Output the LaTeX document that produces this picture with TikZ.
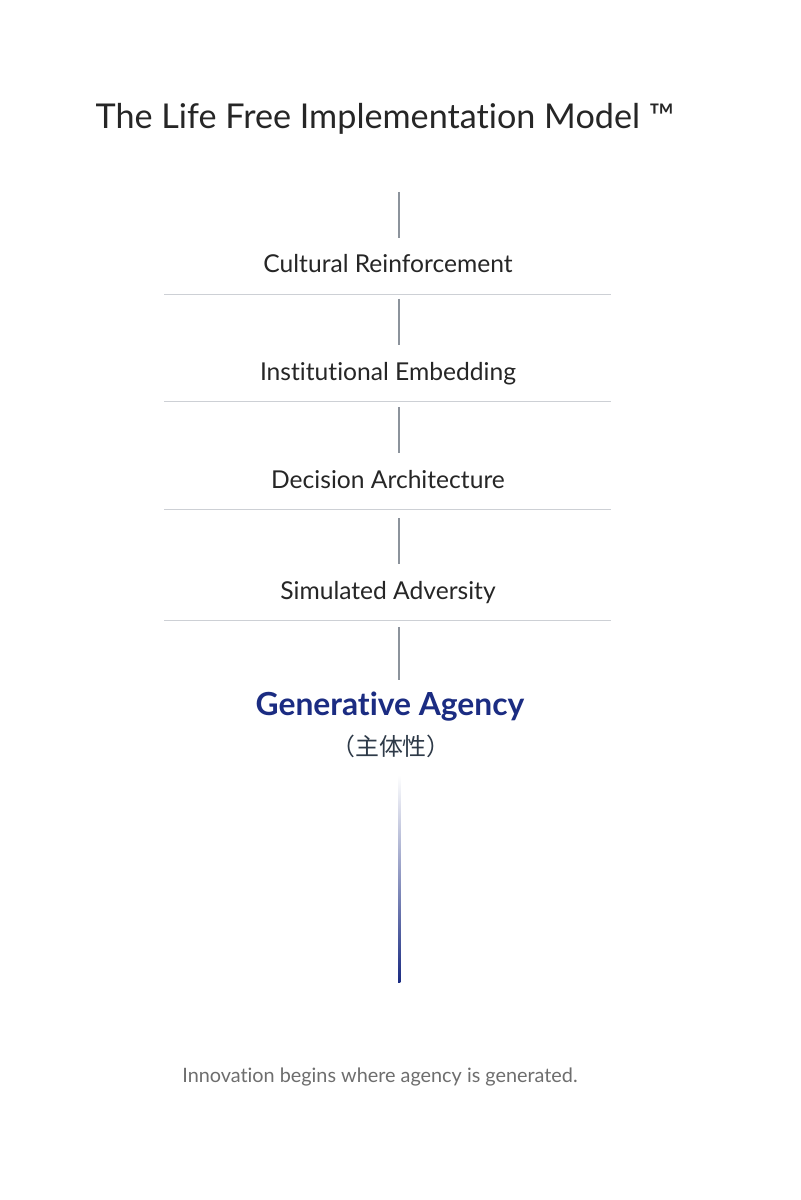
\documentclass[tikz,border=0pt]{standalone}
\usepackage{fontspec}
\setmainfont{Lato}[Ligatures=NoCommon]
\newfontfamily\cjkfont{Noto Sans CJK SC}
\usetikzlibrary{positioning}
\definecolor{inkdark}{HTML}{262626}
\definecolor{agblue}{HTML}{1B2C82}
\definecolor{rulegray}{HTML}{CDD0D5}
\definecolor{stemgray}{HTML}{8C939C}
\definecolor{notegray}{HTML}{6E6E6E}
\definecolor{zhgray}{HTML}{2E3A48}
\tikzset{stage/.style={inner sep=0pt, anchor=base, text=inkdark, font=\fontsize{17.5}{21}\selectfont},
  stem/.style={stemgray, line width=1pt},
  rulel/.style={rulegray, line width=0.7pt}}

\begin{document}
\begin{tikzpicture}[x=0.025cm, y=-0.025cm]
  \useasboundingbox[fill=white] (0,0) rectangle (800,1200);
  \node[inner sep=0pt, anchor=base, text=inkdark, font=\fontsize{24.3}{28}\selectfont] (title) at (385,129) {The Life Free Implementation Model ™};
  \foreach \y/\nm/\txt in {265/cult/Cultural Reinforcement, 372/inst/Institutional Embedding, 480/deci/Decision Architecture, 591/simu/Simulated Adversity} {
    \node[stage] (\nm) at (388,\y+8) {\txt};
    \coordinate (\nm-a) at (399,\y-73);
    \coordinate (\nm-b) at (399,\y-27);
    \coordinate (\nm-l) at (164,\y+29);
    \coordinate (\nm-r) at (611,\y+29);
    \draw[stem] (\nm-a) -- (\nm-b);
    \draw[rulel] (\nm-l) -- (\nm-r);
  }
  \coordinate (gen-a) at (399,627);
  \coordinate (gen-b) at (399,680);
  \draw[stem] (gen-a) -- (gen-b);
  \node[inner sep=0pt, anchor=base, text=agblue, font=\fontsize{22.6}{26}\bfseries\selectfont] (gen) at (390,715) {Generative Agency};
  \node[inner sep=0pt, text=zhgray, font=\fontsize{17}{19}\cjkfont] (zh) at (391,746) {（主体性）};
  % fading stem
  \shade[top color=white, bottom color=agblue] (398,775) rectangle (400.4,982);
  \node[inner sep=0pt, anchor=base, text=notegray, font=\fontsize{14.1}{17}\selectfont] (note) at (380,1082) {Innovation begins where agency is generated.};
\end{tikzpicture}
\end{document}
